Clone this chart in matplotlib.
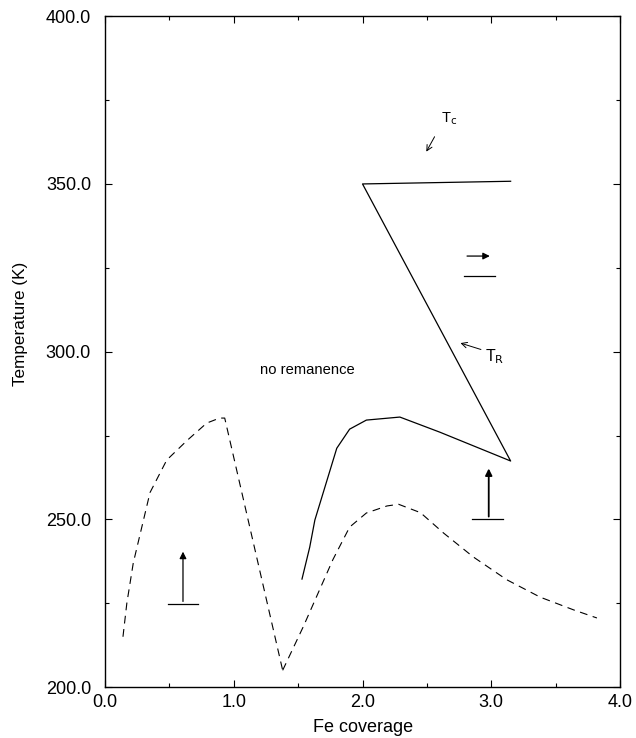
import matplotlib
matplotlib.use('Agg')
import matplotlib.pyplot as plt
from matplotlib.ticker import MultipleLocator, FormatStrFormatter

plt.rcParams['font.family'] = ['Liberation Sans', 'DejaVu Sans']

# lower dashed boundary (left lobe)
dash1_x = [0.14, 0.17, 0.22, 0.35, 0.48, 0.64, 0.79, 0.89, 0.93, 1.38]
dash1_y = [215.0, 225.0, 237.0, 258.0, 267.7, 273.6, 278.7, 280.2, 280.2, 205.0]

# lower dashed boundary (right part)
dash2_x = [1.38, 1.54, 1.77, 1.90, 2.03, 2.19, 2.28, 2.45, 2.63, 2.86, 3.12, 3.38, 3.64, 3.82]
dash2_y = [205.0, 218.0, 238.0, 247.7, 251.9, 254.0, 254.5, 252.0, 245.9, 238.8, 232.0, 226.8, 223.0, 220.6]

# solid line: T_R and T_c
solid_x = [1.53, 1.59, 1.63, 1.80, 1.90, 2.03, 2.29, 2.60, 3.15, 2.00, 3.15]
solid_y = [232.2, 241.7, 249.8, 271.2, 276.9, 279.6, 280.5, 276.0, 267.4, 350.0, 350.8]

fig = plt.figure(figsize=(6.36, 7.38), dpi=100)
ax = fig.add_axes([0.165, 0.069, 0.81, 0.909])

ax.plot(dash1_x, dash1_y, color='black', lw=0.8, linestyle=(0, (7, 5)))
ax.plot(dash2_x, dash2_y, color='black', lw=0.8, linestyle=(0, (7, 5)))
ax.plot(solid_x, solid_y, color='black', lw=0.9)

# magnetisation direction symbols
ax.plot([0.49, 0.72], [224.7, 224.7], color='black', lw=0.9)
ax.annotate('', xy=(0.606, 241.2), xytext=(0.606, 224.7),
            arrowprops=dict(arrowstyle='-|>', color='black', lw=0.9, mutation_scale=10))
ax.plot([2.85, 3.09], [250, 250], color='black', lw=0.9)
ax.annotate('', xy=(2.98, 266.0), xytext=(2.98, 250),
            arrowprops=dict(arrowstyle='-|>', color='black', lw=1.3, mutation_scale=10))
ax.plot([2.79, 3.03], [322.5, 322.5], color='black', lw=0.9)
ax.annotate('', xy=(3.01, 328.5), xytext=(2.79, 328.5),
            arrowprops=dict(arrowstyle='-|>', color='black', lw=0.9, mutation_scale=10))

# labels
ax.annotate('', xy=(2.485, 358.9), xytext=(2.57, 364.8),
            arrowprops=dict(arrowstyle='->', color='black', lw=0.7))
ax.text(2.61, 369.4, r'T$_{\mathrm{c}}$', fontsize=10.5, ha='left', va='center')
ax.annotate('', xy=(2.74, 302.8), xytext=(2.94, 300.4),
            arrowprops=dict(arrowstyle='->', color='black', lw=0.7))
ax.text(2.95, 298.6, r'T$_{\mathrm{R}}$', fontsize=11.5, ha='left', va='center')
ax.text(1.57, 294.5, 'no remanence', fontsize=10.6, ha='center', va='center')

ax.set_xlim(0, 4)
ax.set_ylim(200, 400)
ax.xaxis.set_major_locator(MultipleLocator(1.0))
ax.xaxis.set_minor_locator(MultipleLocator(0.5))
ax.yaxis.set_major_locator(MultipleLocator(50))
ax.yaxis.set_minor_locator(MultipleLocator(25))
ax.xaxis.set_major_formatter(FormatStrFormatter('%.1f'))
ax.yaxis.set_major_formatter(FormatStrFormatter('%.1f'))
ax.tick_params(which='both', direction='in', top=True, right=True, labelsize=13)
ax.tick_params(which='major', length=5, width=0.8)
ax.tick_params(which='minor', length=3, width=0.8)
ax.tick_params(axis='y', pad=10)
ax.tick_params(axis='x', pad=5)
for s in ax.spines.values():
    s.set_linewidth(1.0)

ax.set_xlabel('Fe coverage', fontsize=13)
ax.set_ylabel('Temperature (K)', fontsize=12.3)
ax.xaxis.label.set_va('center')
ax.yaxis.label.set_va('center')
ax.yaxis.label.set_ha('center')
ax.xaxis.set_label_coords(0.501, -0.0596)
ax.yaxis.set_label_coords(-0.163, 0.541)

fig.savefig('out.png', dpi=100)
